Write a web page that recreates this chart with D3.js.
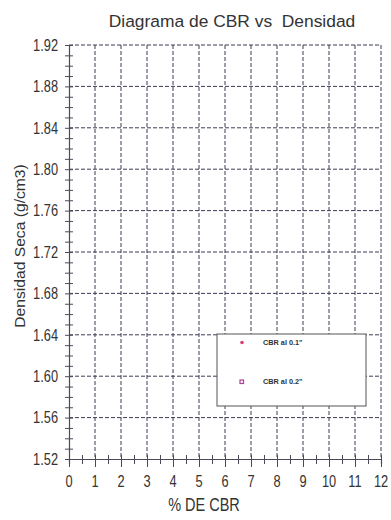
<!DOCTYPE html>
<html>
<head>
<meta charset="utf-8">
<script src="https://cdn.jsdelivr.net/npm/d3@7"></script>
<style>
  html, body { margin: 0; padding: 0; background: #fff; }
  svg { display: block; }
  text { font-family: "Liberation Sans", Arial, sans-serif; fill: #333; }
</style>
</head>
<body>
<svg id="chart" width="391" height="520"></svg>
<script>
// Axis ticks
const xTicks = [0, 1, 2, 3, 4, 5, 6, 7, 8, 9, 10, 11, 12];
const yTicks = [1.52, 1.56, 1.60, 1.64, 1.68, 1.72, 1.76, 1.80, 1.84, 1.88, 1.92];
const yTickLabels = ["1.52", "1.56", "1.60", "1.64", "1.68", "1.72", "1.76", "1.80", "1.84", "1.88", "1.92"];

// Series (CBR %, dry density g/cm3) – no readings plotted yet
const cbr01 = [];
const cbr02 = [];
const seriesNames = ["CBR al 0.1\"", "CBR al 0.2\""];
const seriesColors = ["#d9406a", "#b0409a"];

const svg = d3.select("#chart");
const m = { left: 69, top: 45, right: 381, bottom: 459 };

const x = d3.scaleLinear().domain([0, 12]).range([m.left, m.right]);
const y = d3.scaleLinear().domain([1.52, 1.92]).range([m.bottom, m.top]);

const gridColor = "#3c3c55";
const axisColor = "#4a4a5a";
const stretch = 1.27;

// dashed grid
const grid = svg.append("g");
grid.selectAll("line.vx").data(xTicks.filter(d => d > 0)).join("line")
  .attr("x1", d => x(d)).attr("x2", d => x(d))
  .attr("y1", m.top).attr("y2", m.bottom)
  .attr("stroke", gridColor).attr("stroke-width", 1)
  .attr("stroke-dasharray", "4,2");
grid.selectAll("line.hy").data(yTicks.filter(d => d > 1.52)).join("line")
  .attr("x1", m.left).attr("x2", m.right)
  .attr("y1", d => y(d)).attr("y2", d => y(d))
  .attr("stroke", gridColor).attr("stroke-width", 1)
  .attr("stroke-dasharray", "4,2");

// solid axes with ticks crossing the line
const xMinor = d3.range(0, 12.01, 0.5);
const yMinor = d3.range(0, 41).map(i => 1.52 + i * 0.01);

const xAxis = d3.axisBottom(x).tickValues(xMinor).tickSize(5).tickFormat("");
const gx = svg.append("g").attr("transform", `translate(0,${m.bottom})`).call(xAxis);
gx.select(".domain").attr("stroke", axisColor).attr("stroke-width", 1.2);
gx.selectAll(".tick line").attr("stroke", axisColor).attr("y1", -4)
  .attr("y2", d => Number.isInteger(d) ? 8 : 5);

const yAxis = d3.axisLeft(y).tickValues(yMinor).tickSize(4).tickFormat("");
const gy = svg.append("g").attr("transform", `translate(${m.left},0)`).call(yAxis);
gy.select(".domain").attr("stroke", axisColor).attr("stroke-width", 1.2);
gy.selectAll(".tick line").attr("stroke", axisColor).attr("x1", 4);

// tick labels (tall, narrow face)
svg.append("g").selectAll("text").data(xTicks).join("text")
  .attr("transform", d => `translate(${x(d)},487) scale(1,${stretch})`)
  .attr("text-anchor", "middle").attr("font-size", 12.8)
  .text(d => d);

svg.append("g").selectAll("text").data(yTicks).join("text")
  .attr("transform", d => `translate(58,${y(d) + 5.8}) scale(1,${stretch})`)
  .attr("text-anchor", "end").attr("font-size", 12.8)
  .text((d, i) => yTickLabels[i]);

// titles
svg.append("text").attr("x", 232).attr("y", 27)
  .attr("text-anchor", "middle").attr("font-size", 17.4)
  .attr("xml:space", "preserve")
  .text("Diagrama de CBR vs  Densidad");

svg.append("text")
  .attr("transform", `translate(204,511) scale(1,${stretch})`)
  .attr("text-anchor", "middle").attr("font-size", 14.5)
  .text("% DE CBR");

svg.append("text")
  .attr("transform", `translate(25,246) rotate(-90) scale(1.08,1)`)
  .attr("text-anchor", "middle").attr("font-size", 14.5)
  .text("Densidad Seca (g/cm3)");

// series points
const pts = svg.append("g");
pts.selectAll("circle").data(cbr01).join("circle")
  .attr("cx", d => x(d[0])).attr("cy", d => y(d[1])).attr("r", 2)
  .attr("fill", seriesColors[0]);
pts.selectAll("rect").data(cbr02).join("rect")
  .attr("x", d => x(d[0]) - 2).attr("y", d => y(d[1]) - 2)
  .attr("width", 4).attr("height", 4)
  .attr("fill", "none").attr("stroke", seriesColors[1]);

// legend
const lg = svg.append("g");
lg.append("rect").attr("x", 217).attr("y", 334).attr("width", 149).attr("height", 72)
  .attr("fill", "#fff").attr("stroke", "#555").attr("stroke-width", 1);
lg.append("circle").attr("cx", 242).attr("cy", 342.5).attr("r", 1.8)
  .attr("fill", seriesColors[0]);
lg.append("rect").attr("x", 240).attr("y", 380).attr("width", 3.5).attr("height", 3.5)
  .attr("fill", "none").attr("stroke", seriesColors[1]).attr("stroke-width", 1.2);
lg.selectAll("text").data(seriesNames).join("text")
  .attr("x", 263).attr("y", (d, i) => i === 0 ? 345 : 384)
  .attr("font-size", 7.3).attr("font-weight", "bold").attr("fill", "#222")
  .text(d => d);
</script>
</body>
</html>
